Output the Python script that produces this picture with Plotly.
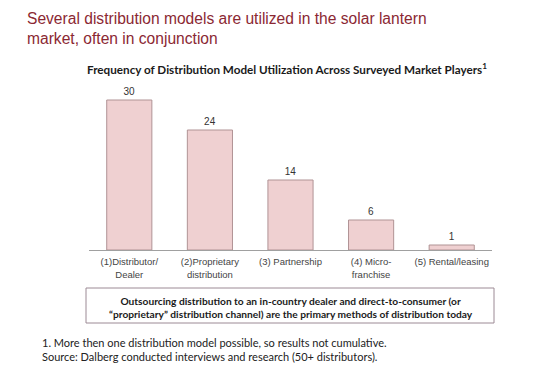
import plotly.graph_objects as go

categories = ["(1)Distributor/<br>Dealer", "(2)Proprietary<br>distribution", "(3) Partnership",
              "(4) Micro-<br>franchise", "(5) Rental/leasing"]
values = [30, 24, 14, 6, 1]

title_text = "Several distribution models are utilized in the solar lantern<br>market, often in conjunction"
chart_title = "Frequency of Distribution Model Utilization Across Surveyed Market Players<sup>1</sup>"
box_text = ("Outsourcing distribution to an in-country dealer and direct-to-consumer (or<br>"
            "\u201cproprietary\u201d distribution channel) are the primary methods of distribution today")
footnote = ("1. More then one distribution model possible, so results not cumulative.<br>"
            "Source: Dalberg conducted interviews and research (50+ distributors).")

OFF = 8  # page body margin
W, H = 554 - OFF, 366 - OFF
L = 89 - OFF
T = 90 - OFF
B = H - (250 - OFF)
R = W - (492 - OFF)
pw, ph = W - L - R, H - T - B

def px(x):
    return (x - OFF - L) / pw

def py(y):
    return (H - B - (y - OFF)) / ph

fig = go.Figure(go.Bar(
    x=categories, y=values,
    marker=dict(color="#efd0d1", line=dict(color="#b09395", width=1)),
    text=values, textposition="outside", cliponaxis=False,
    textfont=dict(family="Liberation Sans, Arial", size=10, color="#333333"),
))

fig.update_layout(
    width=W, height=H, margin=dict(l=L, r=R, t=T, b=B),
    paper_bgcolor="white", plot_bgcolor="white",
    bargap=0.44, showlegend=False,
    xaxis=dict(showline=True, linecolor="#a0a0a0", linewidth=1, ticks="",
               tickfont=dict(family="Liberation Sans, Arial", size=9.5, color="#444444"),
               ticklabelstandoff=3,
               range=[-0.5, 4.5], fixedrange=True),
    yaxis=dict(visible=False, range=[0, 32], fixedrange=True),
)

fig.add_annotation(text=title_text, xref="paper", yref="paper", x=px(25), y=py(28),
                   xanchor="left", yanchor="middle", align="left", showarrow=False,
                   font=dict(family="Liberation Sans, Arial", size=15.6, color="#8b2833"))
fig.add_annotation(text=chart_title, xref="paper", yref="paper", x=px(287), y=py(69),
                   xanchor="center", yanchor="middle", showarrow=False,
                   font=dict(family="Lato", size=11.7, color="#1a1a1a", weight="bold"))
fig.add_shape(type="rect", xref="paper", yref="paper", x0=px(86), x1=px(494), y0=py(288), y1=py(323),
              line=dict(color="#9c8a95", width=1), fillcolor="rgba(0,0,0,0)")
fig.add_annotation(text=box_text, xref="paper", yref="paper", x=px(291), y=py(307),
                   xanchor="center", yanchor="middle", align="center", showarrow=False,
                   font=dict(family="Lato", size=10.2, color="#1a1a1a", weight="bold"))
fig.add_annotation(text=footnote, xref="paper", yref="paper", x=px(40), y=py(349),
                   xanchor="left", yanchor="middle", align="left", showarrow=False,
                   font=dict(family="Lato", size=11, color="#222222"))

fig.write_html("out.html")
